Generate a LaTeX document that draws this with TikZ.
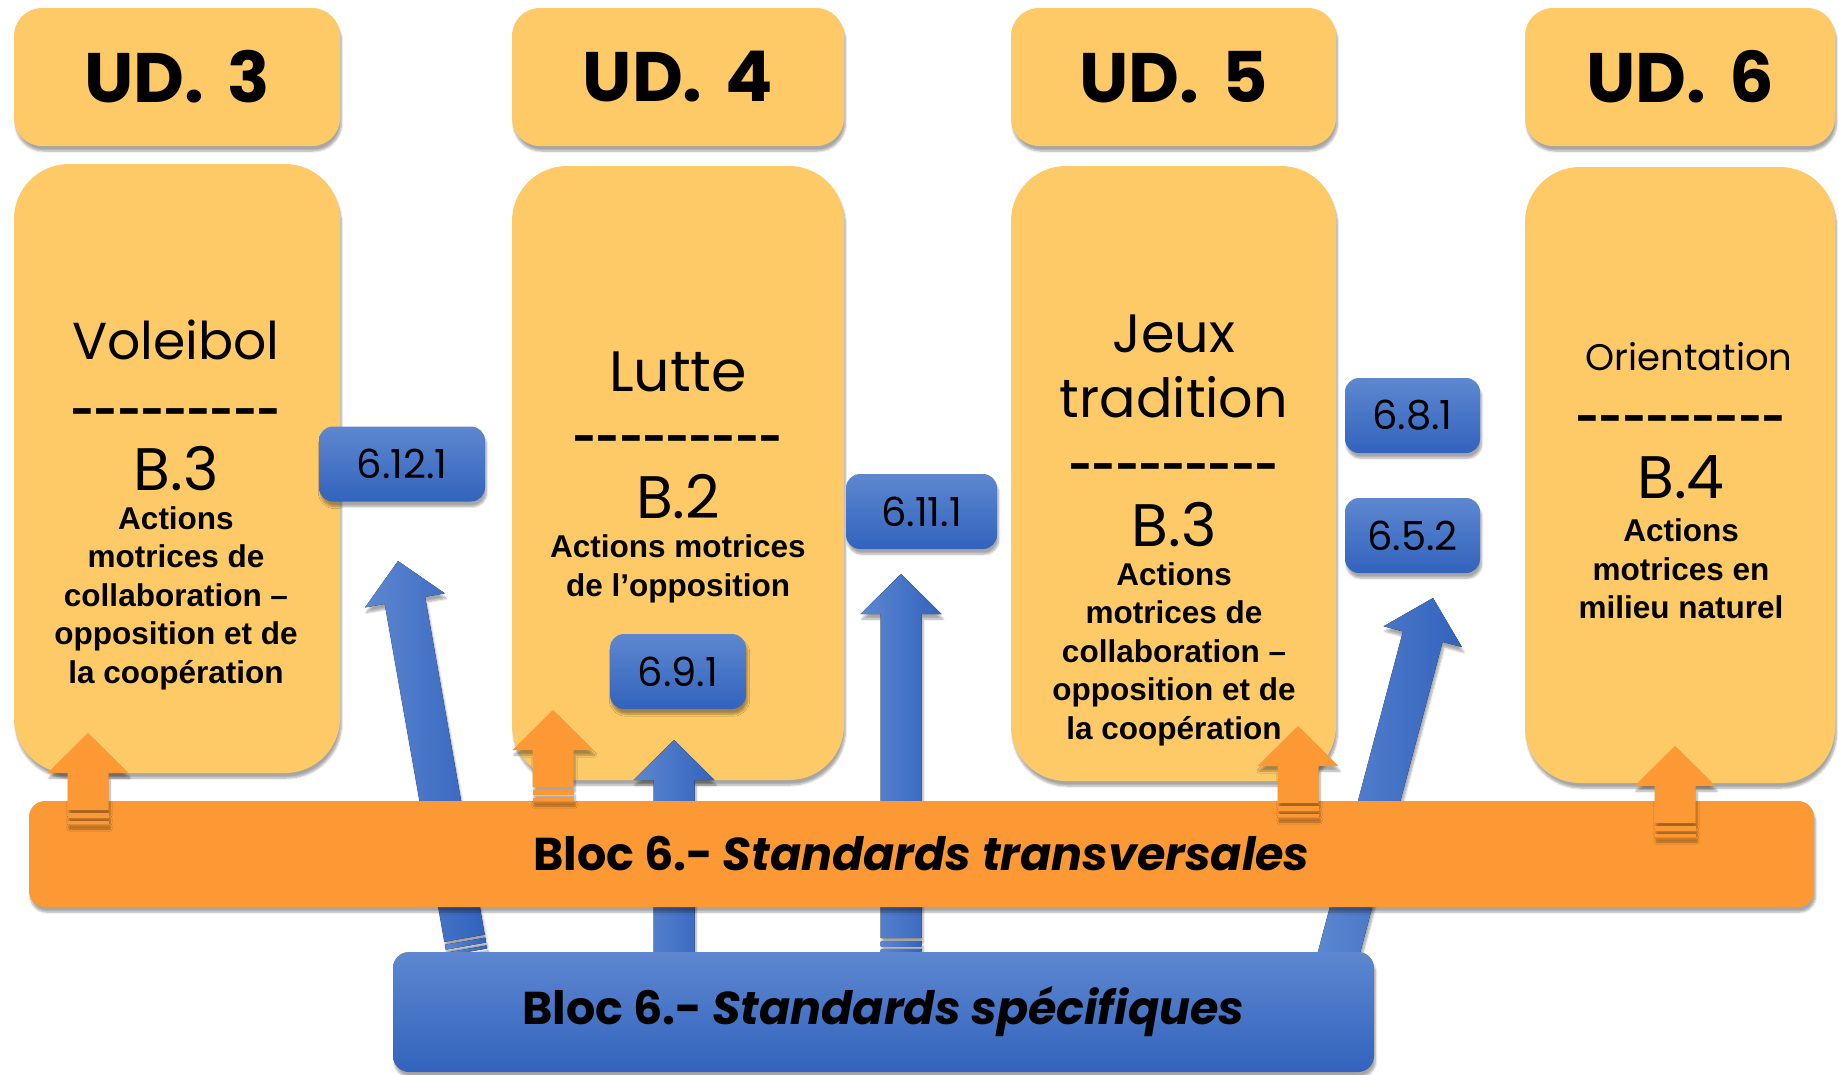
\documentclass[tikz,border=0pt]{standalone}
\usepackage{fontspec}
\setmainfont{Liberation Sans}
\newfontfamily\comicfont{Poppins}
\usetikzlibrary{calc,shadows.blur}

\definecolor{udyellow}{RGB}{254,202,104}
\definecolor{blocorange}{RGB}{253,153,52}
\definecolor{stdblue}{RGB}{50,99,189}
\definecolor{stdbluelight}{RGB}{93,135,208}

\tikzset{
  softshadow/.style={blur shadow={shadow xshift=1.5pt,shadow yshift=-5pt,shadow blur steps=6,shadow opacity=35}},
  udhead/.style={fill=udyellow,rounded corners=28pt,softshadow,inner sep=0pt,minimum height=138pt,
    font=\comicfont\bfseries\fontsize{70}{80}\selectfont},
  udbody/.style={fill=udyellow,rounded corners=55pt,softshadow,inner sep=0pt},
  sporttext/.style={inner sep=0pt,font=\comicfont\fontsize{52}{65}\selectfont,align=center},
  dashtext/.style={inner sep=0pt,anchor=base,font=\comicfont\bfseries\fontsize{40}{44}\selectfont},
  blocktext/.style={inner sep=0pt,font=\comicfont\fontsize{60}{65}\selectfont},
  actiontext/.style={inner sep=0pt,font=\bfseries\fontsize{31.5}{38.5}\selectfont,align=center},
  stdtag/.style={top color=stdbluelight,bottom color=stdblue,rounded corners=14pt,softshadow,
    inner sep=0pt,minimum height=75pt,font=\comicfont\fontsize{40}{44}\selectfont},
  blocbar/.style={fill=blocorange,rounded corners=16pt,softshadow,inner sep=0pt,
    font=\comicfont\bfseries\fontsize{46}{56}\selectfont},
  orangearrow/.style={fill=blocorange,softshadow},
  bluearrow/.style={left color=stdbluelight,right color=stdblue,softshadow}
}

% striped block arrow: #1 tip, #2 tail, #3 style
\newcommand{\blockarrow}[3]{%
  \fill[#3] (#1)
    -- ($(#1)!40pt!(#2)!40.5pt!90:(#2)$)
    -- ($(#1)!40pt!(#2)!20.5pt!90:(#2)$)
    -- ($(#2)!14pt!(#1)!20.5pt!-90:(#1)$)
    -- ($(#2)!14pt!(#1)!20.5pt!90:(#1)$)
    -- ($(#1)!40pt!(#2)!20.5pt!-90:(#2)$)
    -- ($(#1)!40pt!(#2)!40.5pt!-90:(#2)$) -- cycle;
  \fill[#3] ($(#2)!11pt!(#1)!20.5pt!90:(#1)$) -- ($(#2)!11pt!(#1)!20.5pt!-90:(#1)$)
    -- ($(#2)!6pt!(#1)!20.5pt!-90:(#1)$) -- ($(#2)!6pt!(#1)!20.5pt!90:(#1)$) -- cycle;
  \fill[#3] ($(#2)!3pt!(#1)!20.5pt!90:(#1)$) -- ($(#2)!3pt!(#1)!20.5pt!-90:(#1)$)
    -- ($(#2)!20.5pt!-90:(#1)$) -- ($(#2)!20.5pt!90:(#1)$) -- cycle;
}

\begin{document}
\begin{tikzpicture}[x=1pt,y=-1pt]
\useasboundingbox (0,0) rectangle (1839,1074);

% units
\node[udhead,minimum width=326pt] (ud3) at (177,77) {UD.\,\,3};
\node[udhead,minimum width=332pt] (ud4) at (678,77) {UD.\,\,4};
\node[udhead,minimum width=325pt] (ud5) at (1173.5,77) {UD.\,\,5};
\node[udhead,minimum width=310pt] (ud6) at (1680,77) {UD.\,\,6};

% activities
\node[udbody,minimum width=326pt,minimum height=609pt] (act3) at (177,468.5) {};
\node[udbody,minimum width=332pt,minimum height=614pt] (act4) at (678,473) {};
\node[udbody,minimum width=325pt,minimum height=615pt] (act5) at (1173.5,473.5) {};
\node[udbody,minimum width=310pt,minimum height=616pt] (act6) at (1680,475) {};

\node[sporttext] (sport3) at (176,340) {Voleibol};
\node[dashtext] (dash3) at (176,425) {{-}{-}{-}{-}{-}{-}{-}{-}{-}};
\node[blocktext] (bloc3) at (176,469) {B.3};
\node[actiontext] (action3) at (176,598) {Actions\\motrices de\\collaboration –\\opposition et de\\la coopération};

\node[sporttext,font=\comicfont\fontsize{57}{65}\selectfont] (sport4) at (678,372) {Lutte};
\node[dashtext] (dash4) at (678,452) {{-}{-}{-}{-}{-}{-}{-}{-}{-}};
\node[blocktext] (bloc4) at (678,497) {B.2};
\node[actiontext] (action4) at (678,569) {Actions motrices\\de l’opposition};

\node[sporttext,font=\comicfont\fontsize{54}{65}\selectfont] (sport5) at (1174,366) {Jeux\\tradition};
\node[dashtext] (dash5) at (1174,480) {{-}{-}{-}{-}{-}{-}{-}{-}{-}};
\node[blocktext] (bloc5) at (1174,525) {B.3};
\node[actiontext] (action5) at (1174,654) {Actions\\motrices de\\collaboration –\\opposition et de\\la coopération};

\node[sporttext,font=\comicfont\fontsize{37}{44}\selectfont] (sport6) at (1689,357) {Orientation};
\node[dashtext] (dash6) at (1681,432) {{-}{-}{-}{-}{-}{-}{-}{-}{-}};
\node[blocktext] (bloc6) at (1681,477) {B.4};
\node[actiontext] (action6) at (1681,569) {Actions\\motrices en\\milieu naturel};

% standards
\node[stdtag,minimum width=166pt] (s6121) at (402,464) {6.12.1};
\node[stdtag,minimum width=151pt] (s6111) at (921.5,511.5) {6.11.1};
\node[stdtag,minimum width=136pt] (s691) at (678,671.5) {6.9.1};
\node[stdtag,minimum width=135pt] (s681) at (1412.5,415.5) {6.8.1};
\node[stdtag,minimum width=135pt] (s652) at (1412.5,535.5) {6.5.2};

% blue arrows (behind the orange bar)
\coordinate (b1tip) at (398,561);  \coordinate (b1tail) at (467,952);
\coordinate (b2tip) at (674,740);  \coordinate (b2tail) at (674,990);
\coordinate (b3tip) at (901,574);  \coordinate (b3tail) at (901,952);
\coordinate (b4tip) at (1433,598); \coordinate (b4tail) at (1329,990);
\blockarrow{b1tip}{b1tail}{bluearrow}
\blockarrow{b2tip}{b2tail}{bluearrow}
\blockarrow{b3tip}{b3tail}{bluearrow}
\blockarrow{b4tip}{b4tail}{bluearrow}

\node[blocbar,minimum width=1785pt,minimum height=106pt] (transv) at (921.5,854)
  {Bloc 6.- \textit{Standards transversales}};

% orange arrows
\coordinate (o1tip) at (88,733);   \coordinate (o1tail) at (88,824);
\coordinate (o2tip) at (553,710);  \coordinate (o2tail) at (553,801);
\coordinate (o3tip) at (1298,726); \coordinate (o3tail) at (1298,817);
\coordinate (o4tip) at (1675,746); \coordinate (o4tail) at (1675,837);
\blockarrow{o1tip}{o1tail}{orangearrow}
\blockarrow{o2tip}{o2tail}{orangearrow}
\blockarrow{o3tip}{o3tail}{orangearrow}
\blockarrow{o4tip}{o4tail}{orangearrow}

\node[blocbar,top color=stdbluelight,bottom color=stdblue,minimum width=981pt,minimum height=120pt]
  (specif) at (883.5,1012) {Bloc 6.- \textit{Standards spécifiques}};
\end{tikzpicture}
\end{document}
